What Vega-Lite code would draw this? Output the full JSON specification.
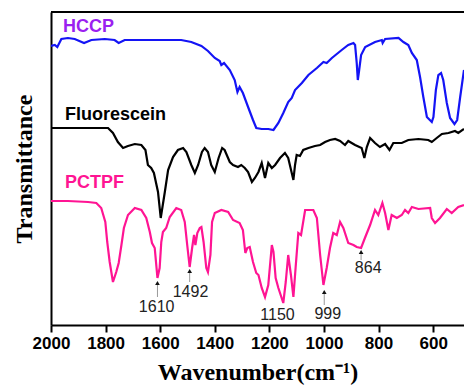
{
  "$schema": "https://vega.github.io/schema/vega-lite/v6.json",
  "width": 413,
  "height": 313,
  "autosize": {"type": "none"},
  "padding": {"left": 51, "top": 12, "right": 0, "bottom": 60},
  "config": {"view": {"stroke": null}, "font": "Liberation Sans"},
  "datasets": {
    "spectra": [
      {"s":"HCCP","wn":2000,"t":279},{"s":"HCCP","wn":1986,"t":280},{"s":"HCCP","wn":1977,"t":278},{"s":"HCCP","wn":1962,"t":286},{"s":"HCCP","wn":1938,"t":287},{"s":"HCCP","wn":1913,"t":286},{"s":"HCCP","wn":1879,"t":282},{"s":"HCCP","wn":1852,"t":285},{"s":"HCCP","wn":1803,"t":286},{"s":"HCCP","wn":1767,"t":285},{"s":"HCCP","wn":1752,"t":282},{"s":"HCCP","wn":1730,"t":285},{"s":"HCCP","wn":1669,"t":285},{"s":"HCCP","wn":1608,"t":285},{"s":"HCCP","wn":1523,"t":285},{"s":"HCCP","wn":1486,"t":283},{"s":"HCCP","wn":1449,"t":279},{"s":"HCCP","wn":1425,"t":274},{"s":"HCCP","wn":1400,"t":267},{"s":"HCCP","wn":1382,"t":264},{"s":"HCCP","wn":1376,"t":260},{"s":"HCCP","wn":1366,"t":262},{"s":"HCCP","wn":1345,"t":255},{"s":"HCCP","wn":1327,"t":245},{"s":"HCCP","wn":1317,"t":233},{"s":"HCCP","wn":1309,"t":238},{"s":"HCCP","wn":1297,"t":232},{"s":"HCCP","wn":1278,"t":218},{"s":"HCCP","wn":1260,"t":205},{"s":"HCCP","wn":1248,"t":197},{"s":"HCCP","wn":1228,"t":196},{"s":"HCCP","wn":1204,"t":196},{"s":"HCCP","wn":1185,"t":195},{"s":"HCCP","wn":1167,"t":202},{"s":"HCCP","wn":1149,"t":212},{"s":"HCCP","wn":1131,"t":223},{"s":"HCCP","wn":1118,"t":227},{"s":"HCCP","wn":1106,"t":235},{"s":"HCCP","wn":1081,"t":242},{"s":"HCCP","wn":1057,"t":250},{"s":"HCCP","wn":1026,"t":257},{"s":"HCCP","wn":1002,"t":263},{"s":"HCCP","wn":990,"t":262},{"s":"HCCP","wn":971,"t":267},{"s":"HCCP","wn":935,"t":275},{"s":"HCCP","wn":911,"t":280},{"s":"HCCP","wn":892,"t":282},{"s":"HCCP","wn":886,"t":280},{"s":"HCCP","wn":880,"t":262},{"s":"HCCP","wn":876,"t":245},{"s":"HCCP","wn":871,"t":255},{"s":"HCCP","wn":864,"t":270},{"s":"HCCP","wn":849,"t":278},{"s":"HCCP","wn":813,"t":283},{"s":"HCCP","wn":788,"t":285},{"s":"HCCP","wn":785,"t":282},{"s":"HCCP","wn":776,"t":286},{"s":"HCCP","wn":727,"t":287},{"s":"HCCP","wn":709,"t":283},{"s":"HCCP","wn":691,"t":280},{"s":"HCCP","wn":678,"t":272},{"s":"HCCP","wn":660,"t":265},{"s":"HCCP","wn":648,"t":248},{"s":"HCCP","wn":636,"t":228},{"s":"HCCP","wn":623,"t":208},{"s":"HCCP","wn":605,"t":203},{"s":"HCCP","wn":599,"t":208},{"s":"HCCP","wn":590,"t":235},{"s":"HCCP","wn":581,"t":250},{"s":"HCCP","wn":571,"t":252},{"s":"HCCP","wn":563,"t":245},{"s":"HCCP","wn":550,"t":222},{"s":"HCCP","wn":538,"t":207},{"s":"HCCP","wn":522,"t":201},{"s":"HCCP","wn":512,"t":205},{"s":"HCCP","wn":501,"t":228},{"s":"HCCP","wn":487,"t":255},
      {"s":"Fluorescein","wn":2000,"t":197},{"s":"Fluorescein","wn":1938,"t":197},{"s":"Fluorescein","wn":1828,"t":197},{"s":"Fluorescein","wn":1791,"t":197},{"s":"Fluorescein","wn":1773,"t":192},{"s":"Fluorescein","wn":1755,"t":183},{"s":"Fluorescein","wn":1736,"t":177},{"s":"Fluorescein","wn":1718,"t":179},{"s":"Fluorescein","wn":1693,"t":181},{"s":"Fluorescein","wn":1669,"t":180},{"s":"Fluorescein","wn":1654,"t":175},{"s":"Fluorescein","wn":1645,"t":160},{"s":"Fluorescein","wn":1633,"t":157},{"s":"Fluorescein","wn":1623,"t":152},{"s":"Fluorescein","wn":1608,"t":133},{"s":"Fluorescein","wn":1598,"t":107},{"s":"Fluorescein","wn":1583,"t":133},{"s":"Fluorescein","wn":1571,"t":155},{"s":"Fluorescein","wn":1553,"t":168},{"s":"Fluorescein","wn":1535,"t":175},{"s":"Fluorescein","wn":1516,"t":177},{"s":"Fluorescein","wn":1504,"t":173},{"s":"Fluorescein","wn":1486,"t":160},{"s":"Fluorescein","wn":1473,"t":152},{"s":"Fluorescein","wn":1461,"t":160},{"s":"Fluorescein","wn":1447,"t":173},{"s":"Fluorescein","wn":1437,"t":177},{"s":"Fluorescein","wn":1425,"t":173},{"s":"Fluorescein","wn":1413,"t":160},{"s":"Fluorescein","wn":1400,"t":153},{"s":"Fluorescein","wn":1386,"t":167},{"s":"Fluorescein","wn":1373,"t":177},{"s":"Fluorescein","wn":1364,"t":175},{"s":"Fluorescein","wn":1345,"t":163},{"s":"Fluorescein","wn":1333,"t":160},{"s":"Fluorescein","wn":1315,"t":158},{"s":"Fluorescein","wn":1303,"t":160},{"s":"Fluorescein","wn":1290,"t":157},{"s":"Fluorescein","wn":1278,"t":153},{"s":"Fluorescein","wn":1264,"t":143},{"s":"Fluorescein","wn":1253,"t":147},{"s":"Fluorescein","wn":1240,"t":153},{"s":"Fluorescein","wn":1228,"t":162},{"s":"Fluorescein","wn":1216,"t":147},{"s":"Fluorescein","wn":1204,"t":162},{"s":"Fluorescein","wn":1191,"t":157},{"s":"Fluorescein","wn":1179,"t":160},{"s":"Fluorescein","wn":1161,"t":167},{"s":"Fluorescein","wn":1143,"t":172},{"s":"Fluorescein","wn":1131,"t":167},{"s":"Fluorescein","wn":1118,"t":152},{"s":"Fluorescein","wn":1112,"t":145},{"s":"Fluorescein","wn":1106,"t":160},{"s":"Fluorescein","wn":1100,"t":170},{"s":"Fluorescein","wn":1088,"t":169},{"s":"Fluorescein","wn":1076,"t":175},{"s":"Fluorescein","wn":1057,"t":177},{"s":"Fluorescein","wn":1033,"t":179},{"s":"Fluorescein","wn":1014,"t":180},{"s":"Fluorescein","wn":996,"t":183},{"s":"Fluorescein","wn":978,"t":185},{"s":"Fluorescein","wn":959,"t":186},{"s":"Fluorescein","wn":941,"t":184},{"s":"Fluorescein","wn":923,"t":180},{"s":"Fluorescein","wn":911,"t":184},{"s":"Fluorescein","wn":886,"t":180},{"s":"Fluorescein","wn":862,"t":177},{"s":"Fluorescein","wn":852,"t":167},{"s":"Fluorescein","wn":843,"t":178},{"s":"Fluorescein","wn":831,"t":187},{"s":"Fluorescein","wn":813,"t":182},{"s":"Fluorescein","wn":795,"t":178},{"s":"Fluorescein","wn":776,"t":181},{"s":"Fluorescein","wn":760,"t":175},{"s":"Fluorescein","wn":746,"t":182},{"s":"Fluorescein","wn":715,"t":182},{"s":"Fluorescein","wn":691,"t":185},{"s":"Fluorescein","wn":654,"t":186},{"s":"Fluorescein","wn":618,"t":185},{"s":"Fluorescein","wn":605,"t":183},{"s":"Fluorescein","wn":587,"t":187},{"s":"Fluorescein","wn":568,"t":191},{"s":"Fluorescein","wn":544,"t":192},{"s":"Fluorescein","wn":520,"t":194},{"s":"Fluorescein","wn":508,"t":192},{"s":"Fluorescein","wn":487,"t":196},
      {"s":"PCTPF","wn":2000,"t":124},{"s":"PCTPF","wn":1938,"t":124},{"s":"PCTPF","wn":1864,"t":123},{"s":"PCTPF","wn":1834,"t":122},{"s":"PCTPF","wn":1816,"t":117},{"s":"PCTPF","wn":1801,"t":103},{"s":"PCTPF","wn":1794,"t":83},{"s":"PCTPF","wn":1785,"t":63},{"s":"PCTPF","wn":1773,"t":43},{"s":"PCTPF","wn":1761,"t":53},{"s":"PCTPF","wn":1752,"t":62},{"s":"PCTPF","wn":1742,"t":80},{"s":"PCTPF","wn":1733,"t":97},{"s":"PCTPF","wn":1718,"t":110},{"s":"PCTPF","wn":1693,"t":117},{"s":"PCTPF","wn":1669,"t":115},{"s":"PCTPF","wn":1651,"t":107},{"s":"PCTPF","wn":1638,"t":93},{"s":"PCTPF","wn":1630,"t":82},{"s":"PCTPF","wn":1620,"t":77},{"s":"PCTPF","wn":1610,"t":47},{"s":"PCTPF","wn":1602,"t":57},{"s":"PCTPF","wn":1596,"t":83},{"s":"PCTPF","wn":1590,"t":93},{"s":"PCTPF","wn":1578,"t":97},{"s":"PCTPF","wn":1565,"t":108},{"s":"PCTPF","wn":1541,"t":117},{"s":"PCTPF","wn":1523,"t":115},{"s":"PCTPF","wn":1510,"t":103},{"s":"PCTPF","wn":1501,"t":80},{"s":"PCTPF","wn":1492,"t":58},{"s":"PCTPF","wn":1483,"t":77},{"s":"PCTPF","wn":1476,"t":90},{"s":"PCTPF","wn":1471,"t":80},{"s":"PCTPF","wn":1464,"t":92},{"s":"PCTPF","wn":1455,"t":97},{"s":"PCTPF","wn":1449,"t":98},{"s":"PCTPF","wn":1441,"t":83},{"s":"PCTPF","wn":1431,"t":57},{"s":"PCTPF","wn":1425,"t":53},{"s":"PCTPF","wn":1416,"t":70},{"s":"PCTPF","wn":1410,"t":103},{"s":"PCTPF","wn":1400,"t":112},{"s":"PCTPF","wn":1376,"t":115},{"s":"PCTPF","wn":1351,"t":113},{"s":"PCTPF","wn":1333,"t":105},{"s":"PCTPF","wn":1309,"t":102},{"s":"PCTPF","wn":1297,"t":95},{"s":"PCTPF","wn":1288,"t":72},{"s":"PCTPF","wn":1281,"t":77},{"s":"PCTPF","wn":1272,"t":78},{"s":"PCTPF","wn":1260,"t":63},{"s":"PCTPF","wn":1248,"t":52},{"s":"PCTPF","wn":1240,"t":50},{"s":"PCTPF","wn":1228,"t":37},{"s":"PCTPF","wn":1216,"t":28},{"s":"PCTPF","wn":1204,"t":40},{"s":"PCTPF","wn":1191,"t":80},{"s":"PCTPF","wn":1185,"t":73},{"s":"PCTPF","wn":1177,"t":47},{"s":"PCTPF","wn":1167,"t":37},{"s":"PCTPF","wn":1149,"t":22},{"s":"PCTPF","wn":1140,"t":43},{"s":"PCTPF","wn":1131,"t":70},{"s":"PCTPF","wn":1121,"t":50},{"s":"PCTPF","wn":1112,"t":28},{"s":"PCTPF","wn":1104,"t":57},{"s":"PCTPF","wn":1094,"t":92},{"s":"PCTPF","wn":1084,"t":90},{"s":"PCTPF","wn":1069,"t":115},{"s":"PCTPF","wn":1039,"t":115},{"s":"PCTPF","wn":1026,"t":107},{"s":"PCTPF","wn":1014,"t":70},{"s":"PCTPF","wn":1002,"t":40},{"s":"PCTPF","wn":990,"t":57},{"s":"PCTPF","wn":978,"t":77},{"s":"PCTPF","wn":966,"t":92},{"s":"PCTPF","wn":953,"t":90},{"s":"PCTPF","wn":941,"t":103},{"s":"PCTPF","wn":929,"t":97},{"s":"PCTPF","wn":911,"t":82},{"s":"PCTPF","wn":892,"t":80},{"s":"PCTPF","wn":880,"t":78},{"s":"PCTPF","wn":864,"t":77},{"s":"PCTPF","wn":850,"t":87},{"s":"PCTPF","wn":831,"t":100},{"s":"PCTPF","wn":813,"t":115},{"s":"PCTPF","wn":801,"t":110},{"s":"PCTPF","wn":786,"t":122},{"s":"PCTPF","wn":776,"t":112},{"s":"PCTPF","wn":764,"t":95},{"s":"PCTPF","wn":752,"t":110},{"s":"PCTPF","wn":733,"t":107},{"s":"PCTPF","wn":715,"t":110},{"s":"PCTPF","wn":703,"t":115},{"s":"PCTPF","wn":691,"t":112},{"s":"PCTPF","wn":678,"t":118},{"s":"PCTPF","wn":654,"t":116},{"s":"PCTPF","wn":611,"t":117},{"s":"PCTPF","wn":605,"t":107},{"s":"PCTPF","wn":593,"t":102},{"s":"PCTPF","wn":575,"t":107},{"s":"PCTPF","wn":550,"t":116},{"s":"PCTPF","wn":532,"t":112},{"s":"PCTPF","wn":508,"t":118},{"s":"PCTPF","wn":487,"t":120}
    ],
    "peaks": [
      {"label":"1610","wn":1610,"tip":42,"base":28},
      {"label":"1492","wn":1492,"tip":54,"base":43},
      {"label":"999","wn":999,"tip":33,"base":20},
      {"label":"864","wn":864,"tip":73,"base":65}
    ],
    "peakLabels": [
      {"label":"1610","lwn":1613,"lt":18},
      {"label":"1492","lwn":1489,"lt":33},
      {"label":"1150","lwn":1170,"lt":10},
      {"label":"999","lwn":986,"lt":11},
      {"label":"864","lwn":838,"lt":57}
    ],
    "names": [
      {"s":"HCCP","wn":1956,"t":293},
      {"s":"Fluorescein","wn":1949,"t":205},
      {"s":"PCTPF","wn":1949,"t":137}
    ],
    "frame": [{"top":313}]
  },
  "layer": [
    {
      "data": {"name": "spectra"},
      "mark": {"type": "line", "strokeWidth": 2.2, "clip": true},
      "encoding": {
        "x": {
          "field": "wn", "type": "quantitative",
          "scale": {"domain": [2000, 487], "nice": false, "zero": false},
          "axis": {
            "values": [2000,1900,1800,1700,1600,1500,1400,1300,1200,1100,1000,900,800,700,600,500],
            "format": "d",
            "labelExpr": "datum.value % 200 === 0 ? datum.label : ''",
            "tickSize": {"condition": {"test": "datum.value % 200 === 0", "value": 7}, "value": 4},
            "tickWidth": 2, "tickColor": "black",
            "domainColor": "black", "domainWidth": 2,
            "labelFont": "Liberation Sans", "labelFontSize": 17, "labelFontWeight": "bold", "labelColor": "black",
            "labelPadding": 3, "labelFlush": false, "labelOverlap": false, "grid": false,
            "title": "Wavenumber(cm⁻¹)",
            "titleFont": "Liberation Serif", "titleFontSize": 24, "titleFontWeight": "bold", "titleColor": "black",
            "titlePadding": 9
          }
        },
        "y": {
          "field": "t", "type": "quantitative",
          "scale": {"domain": [0, 313], "nice": false},
          "axis": {
            "title": "Transmittance", "labels": false, "ticks": false, "grid": false,
            "domainColor": "black", "domainWidth": 2,
            "titleFont": "Liberation Serif", "titleFontSize": 24, "titleFontWeight": "bold", "titleColor": "black",
            "titlePadding": 15
          }
        },
        "color": {
          "field": "s", "type": "nominal",
          "scale": {"domain": ["HCCP", "Fluorescein", "PCTPF"], "range": ["#1414f5", "#000000", "#ff1493"]},
          "legend": null
        }
      }
    },
    {
      "data": {"name": "frame"},
      "mark": {"type": "rule", "strokeWidth": 2, "color": "black"},
      "encoding": {"y": {"field": "top", "type": "quantitative"}}
    },
    {
      "data": {"name": "peaks"},
      "mark": {"type": "rule", "strokeWidth": 1, "color": "#999999"},
      "encoding": {
        "x": {"field": "wn", "type": "quantitative"},
        "y": {"field": "tip", "type": "quantitative"},
        "y2": {"field": "base"}
      }
    },
    {
      "data": {"name": "peaks"},
      "mark": {"type": "point", "shape": "triangle-up", "filled": true, "color": "#111111", "size": 22, "opacity": 1},
      "encoding": {
        "x": {"field": "wn", "type": "quantitative"},
        "y": {"field": "tip", "type": "quantitative"}
      }
    },
    {
      "data": {"name": "peakLabels"},
      "mark": {"type": "text", "font": "Liberation Sans", "fontSize": 16, "color": "#222222", "align": "center", "baseline": "middle"},
      "encoding": {
        "x": {"field": "lwn", "type": "quantitative"},
        "y": {"field": "lt", "type": "quantitative"},
        "text": {"field": "label"}
      }
    },
    {
      "data": {"name": "names"},
      "mark": {"type": "text", "font": "Liberation Sans", "fontSize": 18, "fontWeight": "bold", "align": "left", "baseline": "alphabetic"},
      "encoding": {
        "x": {"field": "wn", "type": "quantitative"},
        "y": {"field": "t", "type": "quantitative"},
        "text": {"field": "s"},
        "color": {
          "field": "s", "type": "nominal",
          "scale": {"domain": ["HCCP", "Fluorescein", "PCTPF"], "range": ["#9b1ff0", "#000000", "#ff1493"]},
          "legend": null
        }
      }
    }
  ],
  "resolve": {"scale": {"color": "independent"}}
}
